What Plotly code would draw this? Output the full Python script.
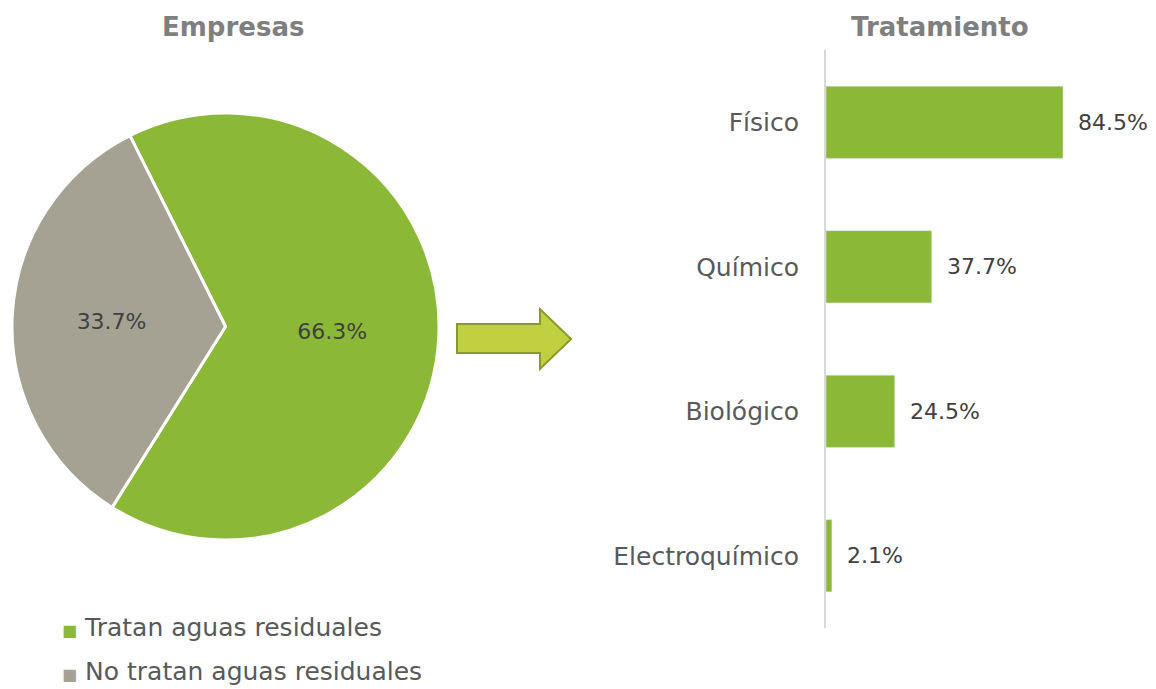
import plotly.graph_objects as go

W, H = 1156, 689

# ---- data ----
pie_labels = ["Tratan aguas residuales", "No tratan aguas residuales"]
pie_values = [66.3, 33.7]
pie_colors = ["#8BB837", "#A5A293"]

bar_categories = ["Físico", "Químico", "Biológico", "Electroquímico"]
bar_values = [84.5, 37.7, 24.5, 2.1]

FONT = "DejaVu Sans"
TXT = "#595959"

def px(x):
    return x / W

def py(y):
    return 1 - y / H

fig = go.Figure()

fig.add_trace(go.Pie(
    labels=pie_labels, values=pie_values, sort=False, direction="clockwise",
    rotation=-26.6,
    marker=dict(colors=pie_colors, line=dict(color="white", width=3)),
    texttemplate="%{percent:.1%}", textposition="inside",
    insidetextorientation="horizontal",
    textfont=dict(family=FONT, size=22, color="#404040"),
    domain=dict(x=[px(12), px(439)], y=[py(540), py(113)]),
    showlegend=False, hoverinfo="label+percent",
))

fig.add_trace(go.Bar(
    x=bar_values, y=bar_categories, orientation="h",
    marker=dict(color="#8BB837"), width=0.5,
    xaxis="x", yaxis="y", showlegend=False,
))

# value labels for bars
annotations = []
for c, v in zip(bar_categories, bar_values):
    annotations.append(dict(x=v, y=c, xref="x", yref="y", text=f"{v:.1f}%",
                            showarrow=False, xanchor="left", yanchor="middle", xshift=13,
                            font=dict(family=FONT, size=22, color="#404040")))

# titles
annotations.append(dict(x=px(233), y=py(27), xref="paper", yref="paper", text="<b>Empresas</b>",
                        xanchor="center", yanchor="middle",
                        showarrow=False, font=dict(family=FONT, size=26, color="#7F7F7F")))
annotations.append(dict(x=px(940), y=py(27), xref="paper", yref="paper", text="<b>Tratamiento</b>",
                        xanchor="center", yanchor="middle",
                        showarrow=False, font=dict(family=FONT, size=26, color="#7F7F7F")))

# custom legend
for lab, col, yy in zip(pie_labels, pie_colors, [627, 671]):
    annotations.append(dict(x=px(60), y=py(yy), xref="paper", yref="paper",
                            xanchor="left", yanchor="middle",
                            text=f"<span style='color:{col};font-size:16px'>■</span> {lab}",
                            showarrow=False, font=dict(family=FONT, size=25, color=TXT)))

# arrow shape
pts = [(457, 324), (540, 324), (540, 309), (571, 339), (540, 369), (540, 353), (457, 353)]
path = "M " + " L ".join(f"{px(x)},{py(y)}" for x, y in pts) + " Z"
shapes = [dict(type="path", xref="paper", yref="paper", path=path,
               fillcolor="#C0D040", line=dict(color="#8A9A2A", width=2))]

fig.update_layout(
    width=W, height=H, margin=dict(l=0, r=0, t=0, b=0),
    paper_bgcolor="white", plot_bgcolor="white",
    xaxis=dict(domain=[px(826), 1], range=[0, 330 / 2.805], visible=False),
    yaxis=dict(domain=[py(628), py(50)], autorange="reversed",
               showline=True, linecolor="#D9D9D9", linewidth=2,
               showgrid=False, ticks="", ticklabelstandoff=20,
               tickfont=dict(family=FONT, size=25, color=TXT), anchor="x"),
    annotations=annotations, shapes=shapes,
    font=dict(family=FONT),
)

fig.write_html("out.html", config={"displayModeBar": False},
               post_script="document.body.style.margin='0';document.body.style.overflow='hidden';")
